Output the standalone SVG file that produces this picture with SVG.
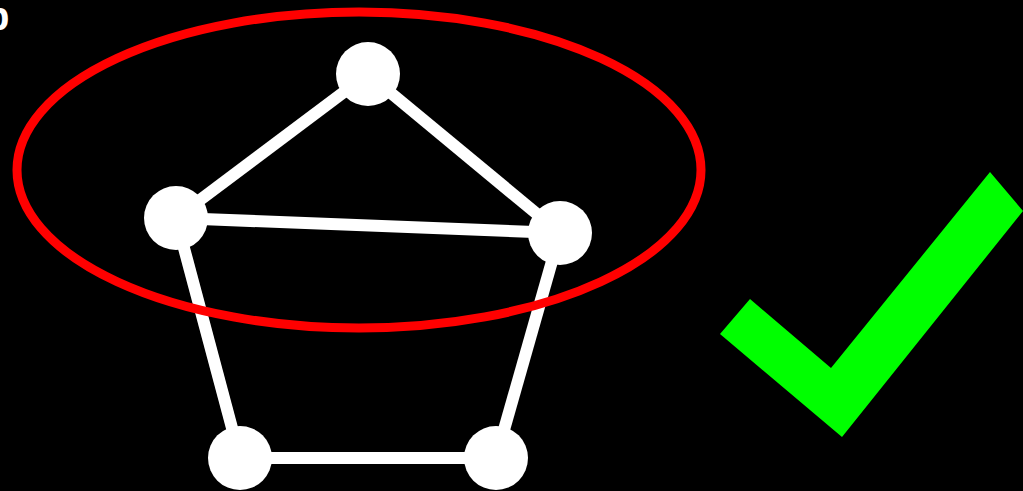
<svg xmlns="http://www.w3.org/2000/svg" width="1023" height="491" viewBox="0 0 1023 491">
<style>
.edge{stroke:#fff;stroke-width:12;fill:none}
.node{fill:#fff}
.lbl{font-family:"Liberation Sans",Arial,sans-serif;font-weight:bold;font-size:40px;fill:#fff}
</style>
<rect width="1023" height="491" fill="#000"/>
<text class="lbl" x="-15" y="30">b</text>
<g id="connectors">
<line class="edge" x1="368" y1="74" x2="176" y2="218"/>
<line class="edge" x1="368" y1="74" x2="560" y2="233"/>
<line class="edge" x1="176" y1="218" x2="560" y2="233"/>
<line class="edge" x1="176" y1="218" x2="240" y2="458"/>
<line class="edge" x1="560" y1="233" x2="496" y2="458"/>
<line class="edge" x1="240" y1="458" x2="496" y2="458"/>
</g>
<g id="n1"><circle class="node" cx="368" cy="74" r="32"/></g>
<g id="n2"><circle class="node" cx="176" cy="218" r="32"/></g>
<g id="n3"><circle class="node" cx="560" cy="233" r="32"/></g>
<g id="n4"><circle class="node" cx="240" cy="458" r="32"/></g>
<g id="n5"><circle class="node" cx="496" cy="458" r="32"/></g>
<g id="highlight"><ellipse cx="359" cy="170" rx="342" ry="158" fill="none" stroke="#f00" stroke-width="9"/></g>
<g id="check"><polygon points="750,299 720,334 842,437 1023,211 990,172 831,368" fill="#0f0"/></g>
</svg>
